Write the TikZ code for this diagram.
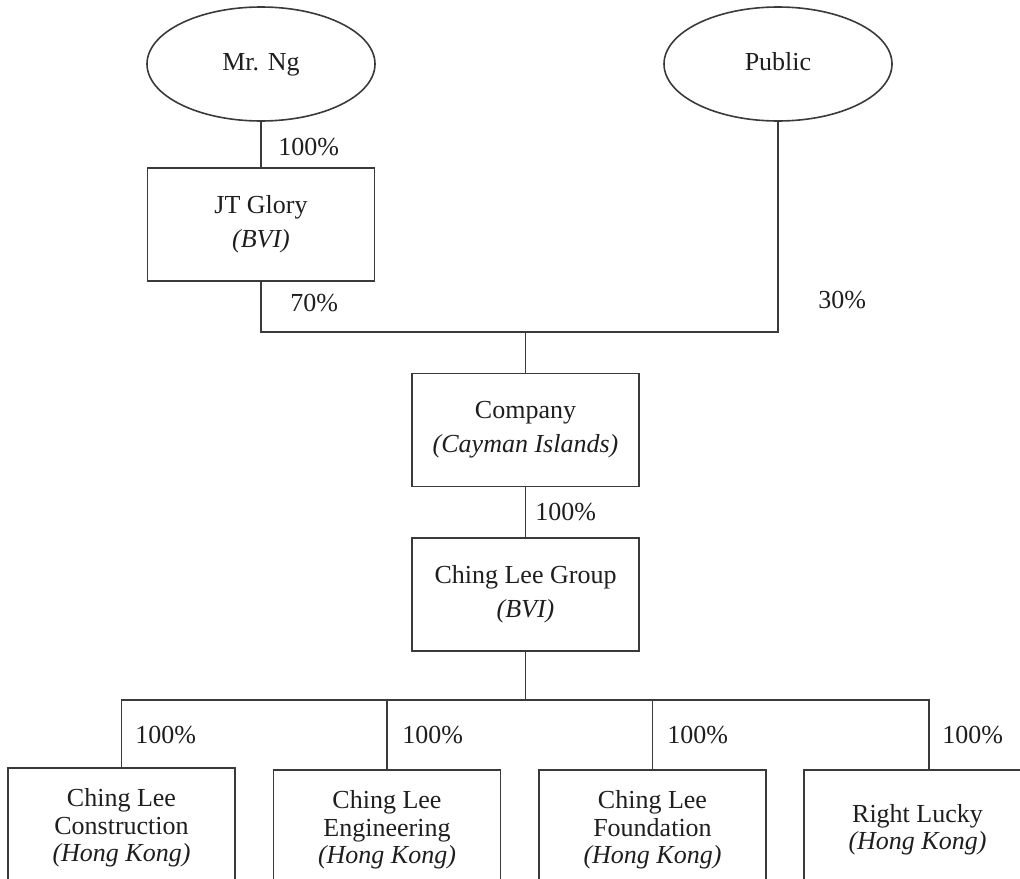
\documentclass[tikz,border=0pt]{standalone}
\usepackage{fontspec}
\setmainfont{Liberation Serif}
\usetikzlibrary{shapes.geometric,calc}
\definecolor{ln}{HTML}{3A3A3A}
\definecolor{tx}{HTML}{1E1E1E}
\begin{document}
\begin{tikzpicture}[x=0.5pt,y=-0.5pt,
  every node/.style={text=tx},
  ownbox/.style={draw=ln,line width=0.8pt,rectangle,minimum width=113.5pt,minimum height=56.5pt,align=center,inner sep=0pt,font=\fontsize{13}{17}\selectfont},
  subbox/.style={draw=ln,line width=0.8pt,rectangle,minimum width=113.5pt,minimum height=60pt,align=center,inner sep=0pt,anchor=north,font=\fontsize{13}{13.8}\selectfont},
  holder/.style={draw=ln,line width=0.8pt,ellipse,minimum width=114pt,minimum height=57pt,inner sep=0pt,font=\fontsize{13}{17}\selectfont},
  pct/.style={anchor=west,inner sep=0pt,font=\fontsize{13}{15}\selectfont},
  conn/.style={draw=ln,line width=0.8pt}]
\useasboundingbox (0,0) rectangle (1020,878);
\clip (0,0) rectangle (1020,878);

\node[holder] (ng) at (261,64) {Mr. Ng\vphantom{Pb}};
\node[holder] (pub) at (778,64) {Public\vphantom{g}};
\node[ownbox] (jt) at (261,224.5) {JT Glory\\\textit{(BVI)}};
\node[ownbox] (co) at (525.5,430) {Company\\\textit{(Cayman Islands)}};
\node[ownbox] (clg) at (525.5,594.5) {Ching Lee Group\\\textit{(BVI)}};

\node[subbox] (c1) at (121.5,767) {Ching Lee\\Construction\\\textit{(Hong Kong)}};
\node[subbox] (c2) at (387,769) {Ching Lee\\Engineering\\\textit{(Hong Kong)}};
\node[subbox] (c3) at (652.5,769) {Ching Lee\\Foundation\\\textit{(Hong Kong)}};
\node[subbox] (c4) at (917.5,769) {Right Lucky\\\textit{(Hong Kong)}};

\coordinate (b1) at (525.5,332);
\coordinate (b2) at (525.5,700);
\coordinate (c4top) at (929,769);

\draw[conn] (ng.south) -- (jt.north);
\draw[conn] (jt.south) |- (b1) -| (pub.south);
\draw[conn] (b1) -- (co.north);
\draw[conn] (co.south) -- (clg.north);
\draw[conn] (clg.south) -- (b2);
\draw[conn] (c1.north) |- (c4top |- b2) -- (c4top);
\draw[conn] (c2.north) -- (c2.north |- b2);
\draw[conn] (c3.north) -- (c3.north |- b2);

\node[pct] (p1) at (278,147) {100\%};
\node[pct] (p2) at (290,303) {70\%};
\node[pct] (p3) at (818,300) {30\%};
\node[pct] (p4) at (535,512) {100\%};
\node[pct] (p5) at (135,735) {100\%};
\node[pct] (p6) at (402,735) {100\%};
\node[pct] (p7) at (667,735) {100\%};
\node[pct] (p8) at (942,735) {100\%};
\end{tikzpicture}
\end{document}
